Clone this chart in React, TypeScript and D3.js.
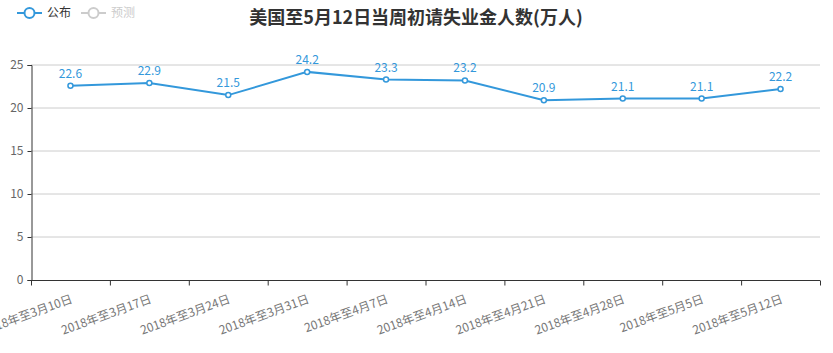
import React, { useEffect, useRef } from "react";
import * as d3 from "d3";

const categories = [
  "2018年至3月10日",
  "2018年至3月17日",
  "2018年至3月24日",
  "2018年至3月31日",
  "2018年至4月7日",
  "2018年至4月14日",
  "2018年至4月21日",
  "2018年至4月28日",
  "2018年至5月5日",
  "2018年至5月12日",
];
const published = [22.6, 22.9, 21.5, 24.2, 23.3, 23.2, 20.9, 21.1, 21.1, 22.2];
const yTicks = [0, 5, 10, 15, 20, 25];
const legendItems = ["公布", "预测"];
const title = "美国至5月12日当周初请失业金人数(万人)";

const App = () => {
  const svgRef = useRef<SVGSVGElement>(null);

  useEffect(() => {
    const width = 833;
    const height = 353;
    const margin = { top: 65, right: 13, bottom: 73, left: 31 };
    const font = "'Noto Sans CJK SC', 'Noto Sans', sans-serif";
    const blue = "#3398db";

    const svg = d3.select(svgRef.current);
    svg.selectAll("*").remove();
    svg.attr("width", width).attr("height", height).style("font-family", font);

    const x = d3.scaleBand<string>()
      .domain(categories)
      .range([margin.left, width - margin.right]);

    const y = d3.scaleLinear()
      .domain([0, 25])
      .range([height - margin.bottom, margin.top]);

    // grid lines
    svg.append("g")
      .selectAll("line")
      .data(yTicks.filter(t => t > 0))
      .enter()
      .append("line")
      .attr("x1", margin.left)
      .attr("x2", width - margin.right)
      .attr("y1", d => y(d))
      .attr("y2", d => y(d))
      .attr("stroke", "#ccc")
      .attr("stroke-width", 1);

    // y axis
    const yAxis = svg.append("g")
      .attr("transform", `translate(${margin.left + 0.5},0)`)
      .call(d3.axisLeft(y).tickValues(yTicks).tickSize(4).tickPadding(4));
    yAxis.select(".domain").attr("stroke", "#333");
    yAxis.selectAll(".tick line").attr("stroke", "#333");
    yAxis.selectAll("text")
      .attr("fill", "#666")
      .style("font-family", font)
      .style("font-size", "12px");

    // x axis
    const xAxis = svg.append("g")
      .attr("transform", `translate(0,${y(0) + 0.5})`);
    xAxis.append("line")
      .attr("x1", margin.left)
      .attr("x2", width - margin.right)
      .attr("stroke", "#333");
    const edges = categories.map(c => x(c)!).concat([width - margin.right]);
    xAxis.selectAll("line.tk")
      .data(edges)
      .enter()
      .append("line")
      .attr("class", "tk")
      .attr("x1", d => d + 0.5)
      .attr("x2", d => d + 0.5)
      .attr("y1", 0)
      .attr("y2", 5)
      .attr("stroke", "#333");
    xAxis.selectAll("text")
      .data(categories)
      .enter()
      .append("text")
      .attr("transform", d => `translate(${x(d)! + x.bandwidth() / 2},14) rotate(-20)`)
      .attr("text-anchor", "end")
      .attr("dy", "0.7em")
      .attr("fill", "#777")
      .style("font-size", "12px")
      .text(d => d);

    // line
    const line = d3.line<number>()
      .x((d, i) => x(categories[i])! + x.bandwidth() / 2)
      .y(d => y(d));
    svg.append("path")
      .datum(published)
      .attr("d", line)
      .attr("fill", "none")
      .attr("stroke", blue)
      .attr("stroke-width", 2);

    svg.append("g")
      .selectAll("circle")
      .data(published)
      .enter()
      .append("circle")
      .attr("cx", (d, i) => x(categories[i])! + x.bandwidth() / 2)
      .attr("cy", d => y(d))
      .attr("r", 2.5)
      .attr("fill", "#fff")
      .attr("stroke", blue)
      .attr("stroke-width", 1.5);

    svg.append("g")
      .selectAll("text")
      .data(published)
      .enter()
      .append("text")
      .attr("x", (d, i) => x(categories[i])! + x.bandwidth() / 2)
      .attr("y", d => y(d) - 8)
      .attr("text-anchor", "middle")
      .attr("fill", blue)
      .style("font-size", "12px")
      .text(d => d.toFixed(1));

    // title
    svg.append("text")
      .attr("x", 416)
      .attr("y", 24)
      .attr("text-anchor", "middle")
      .attr("fill", "#333")
      .style("font-size", "18px")
      .style("font-weight", "bold")
      .text(title);

    // legend
    const legendColors = [blue, "#ccc"];
    const lg = svg.append("g")
      .selectAll("g")
      .data(legendItems)
      .enter()
      .append("g")
      .attr("transform", (d, i) => `translate(${17 + i * 64},13)`);
    lg.append("line")
      .attr("x1", 0)
      .attr("x2", 25)
      .attr("stroke", (d, i) => legendColors[i])
      .attr("stroke-width", 2);
    lg.append("circle")
      .attr("cx", 12.5)
      .attr("r", 5)
      .attr("fill", "#fff")
      .attr("stroke", (d, i) => legendColors[i])
      .attr("stroke-width", 2);
    lg.append("text")
      .attr("x", 30)
      .attr("dy", "0.35em")
      .attr("fill", (d, i) => (i === 0 ? "#333" : "#ccc"))
      .style("font-size", "12px")
      .text(d => d);
  }, []);

  return <svg ref={svgRef} style={{ position: "absolute", left: 0, top: 0 }}></svg>;
};

export default App;
